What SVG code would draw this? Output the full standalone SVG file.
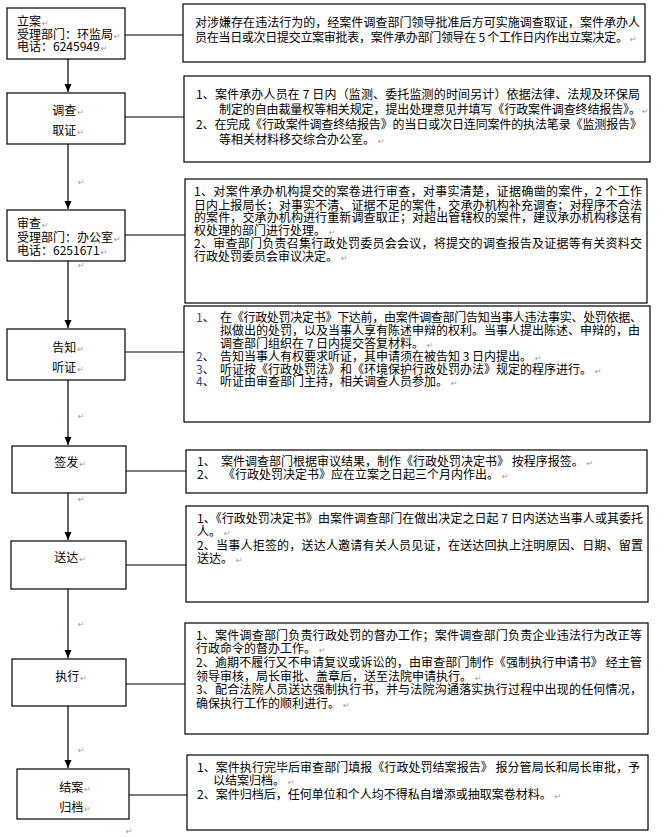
<svg xmlns="http://www.w3.org/2000/svg" width="664" height="837" viewBox="0 0 664 837">
<style>
.box{fill:#fff;stroke:#000;stroke-width:1.2}
.t{font-family:"Noto Sans CJK SC","Noto Sans",sans-serif;font-size:12px;fill:#000}
.m{text-anchor:middle}
.pm{font-family:"DejaVu Sans",sans-serif;font-size:8px;fill:#999}
.n{fill:#2b4a8b}
.c{stroke:#000;stroke-width:1.2;fill:none}
</style>
<defs>
<marker id="ah" markerUnits="userSpaceOnUse" markerWidth="8" markerHeight="8" viewBox="0 0 8 8" refX="8" refY="4" orient="auto">
<path d="M0,0.5 L8,4 L0,7.5 z" fill="#000"/>
</marker>
</defs>
<rect width="664" height="837" fill="#fff"/>

<g id="connectors">
<line class="c" x1="68" y1="59" x2="68" y2="92" marker-end="url(#ah)"/>
<line class="c" x1="68" y1="144" x2="68" y2="209" marker-end="url(#ah)"/>
<line class="c" x1="68" y1="261" x2="68" y2="328" marker-end="url(#ah)"/>
<line class="c" x1="68" y1="380" x2="68" y2="445" marker-end="url(#ah)"/>
<line class="c" x1="68" y1="493" x2="68" y2="540" marker-end="url(#ah)"/>
<line class="c" x1="68" y1="589" x2="68" y2="658" marker-end="url(#ah)"/>
<line class="c" x1="68" y1="706" x2="68" y2="768" marker-end="url(#ah)"/>
<line class="c" x1="125" y1="35" x2="183" y2="35"/>
<line class="c" x1="125" y1="117" x2="184" y2="117"/>
<line class="c" x1="125" y1="235" x2="185" y2="235"/>
<line class="c" x1="125" y1="352" x2="184" y2="352"/>
<line class="c" x1="126" y1="471" x2="186" y2="471"/>
<line class="c" x1="126" y1="565" x2="186" y2="565"/>
<line class="c" x1="126" y1="684" x2="185" y2="684"/>
<line class="c" x1="129" y1="795" x2="187" y2="795"/>
</g>

<g id="marks">
<text class="pm" x="78" y="185">↵</text>
<text class="pm" x="78" y="268">↵</text>
<text class="pm" x="78" y="419">↵</text>
<text class="pm" x="78" y="502">↵</text>
<text class="pm" x="78" y="627">↵</text>
<text class="pm" x="78" y="753">↵</text>
<text class="pm" x="126" y="834">↵</text>
</g>

<g id="n1">
<rect class="box" x="7" y="8" width="118" height="51"/>
<text class="t" x="17" y="26">立案<tspan class="pm" dx="1">↵</tspan></text>
<text class="t" x="17" y="38.5">受理部门：环监局<tspan class="pm" dx="1">↵</tspan></text>
<text class="t" x="17" y="51">电话：6245949<tspan class="pm" dx="1">↵</tspan></text>
</g>
<g id="n1d">
<rect class="box" x="183" y="4" width="462" height="58"/>
<text class="t" x="195" y="27" textLength="445" lengthAdjust="spacing">对涉嫌存在违法行为的，经案件调查部门领导批准后方可实施调查取证，案件承办人</text>
<text class="t" x="195" y="42" textLength="433" lengthAdjust="spacing">员在当日或次日提交立案审批表，案件承办部门领导在 5 个工作日内作出立案决定。</text>
<text class="pm" x="630" y="42">↵</text>
</g>

<g id="n2">
<rect class="box" x="7" y="93" width="118" height="51"/>
<text class="t m" x="68" y="115">调查<tspan class="pm" dx="1">↵</tspan></text>
<text class="t m" x="68" y="135">取证<tspan class="pm" dx="1">↵</tspan></text>
</g>
<g id="n2d">
<rect class="box" x="184" y="76" width="466" height="86"/>
<text class="t" x="196" y="99" textLength="444" lengthAdjust="spacing">1、案件承办人员在 7 日内（监测、委托监测的时间另计）依据法律、法规及环保局</text>
<text class="t" x="219" y="114" textLength="422" lengthAdjust="spacing">制定的自由裁量权等相关规定，提出处理意见并填写《行政案件调查终结报告》。</text>
<text class="pm" x="642" y="114">↵</text>
<text class="t" x="196" y="129" textLength="446" lengthAdjust="spacing">2、在完成《行政案件调查终结报告》的当日或次日连同案件的执法笔录《监测报告》</text>
<text class="t" x="219" y="144">等相关材料移交综合办公室。<tspan class="pm" dx="3">↵</tspan></text>
</g>

<g id="n3">
<rect class="box" x="7" y="210" width="118" height="51"/>
<text class="t" x="17" y="228">审查<tspan class="pm" dx="1">↵</tspan></text>
<text class="t" x="17" y="242">受理部门：办公室<tspan class="pm" dx="1">↵</tspan></text>
<text class="t" x="17" y="255">电话：6251671<tspan class="pm" dx="1">↵</tspan></text>
</g>
<g id="n3d">
<rect class="box" x="185" y="179" width="462" height="124"/>
<text class="t" x="194" y="196" textLength="448" lengthAdjust="spacing">1、对案件承办机构提交的案卷进行审查，对事实清楚，证据确凿的案件，2 个工作</text>
<text class="t" x="194" y="209.5" textLength="448" lengthAdjust="spacing">日内上报局长；对事实不清、证据不足的案件，交承办机构补充调查；对程序不合法</text>
<text class="t" x="194" y="222" textLength="448" lengthAdjust="spacing">的案件，交承办机构进行重新调查取正；对超出管辖权的案件，建议承办机构移送有</text>
<text class="t" x="194" y="234.5">权处理的部门进行处理。<tspan class="pm" dx="3">↵</tspan></text>
<text class="t" x="194" y="248" textLength="448" lengthAdjust="spacing">2、审查部门负责召集行政处罚委员会会议，将提交的调查报告及证据等有关资料交</text>
<text class="t" x="194" y="260.5">行政处罚委员会审议决定。<tspan class="pm" dx="3">↵</tspan></text>
</g>

<g id="n4">
<rect class="box" x="7" y="329" width="118" height="51"/>
<text class="t m" x="68" y="352">告知<tspan class="pm" dx="1">↵</tspan></text>
<text class="t m" x="68" y="372">听证<tspan class="pm" dx="1">↵</tspan></text>
</g>
<g id="n4d">
<rect class="box" x="184" y="306" width="466" height="116"/>
<text class="t" x="196" y="322"><tspan class="n">1</tspan>、</text>
<text class="t" x="220" y="322" textLength="422" lengthAdjust="spacing">在《行政处罚决定书》下达前，由案件调查部门告知当事人违法事实、处罚依据、</text>
<text class="t" x="220" y="335" textLength="420" lengthAdjust="spacing">拟做出的处罚，以及当事人享有陈述申辩的权利。当事人提出陈述、申辩的，由</text>
<text class="t" x="220" y="348">调查部门组织在 7 日内提交答复材料。<tspan class="pm" dx="3">↵</tspan></text>
<text class="t" x="196" y="361"><tspan class="n">2</tspan>、</text>
<text class="t" x="220" y="361">告知当事人有权要求听证，其申请须在被告知 3 日内提出。<tspan class="pm" dx="3">↵</tspan></text>
<text class="t" x="196" y="373.5"><tspan class="n">3</tspan>、</text>
<text class="t" x="220" y="373.5">听证按《行政处罚法》和《环境保护行政处罚办法》规定的程序进行。<tspan class="pm" dx="3">↵</tspan></text>
<text class="t" x="196" y="386"><tspan class="n">4</tspan>、</text>
<text class="t" x="220" y="386">听证由审查部门主持，相关调查人员参加。<tspan class="pm" dx="3">↵</tspan></text>
</g>

<g id="n5">
<rect class="box" x="12" y="446" width="114" height="47"/>
<text class="t m" x="70" y="467">签发<tspan class="pm" dx="1">↵</tspan></text>
</g>
<g id="n5d">
<rect class="box" x="186" y="450" width="461" height="43"/>
<text class="t" x="197" y="465.5">1、</text>
<text class="t" x="221" y="465.5">案件调查部门根据审议结果，制作《行政处罚决定书》 按程序报签。<tspan class="pm" dx="3">↵</tspan></text>
<text class="t" x="197" y="478.5">2、</text>
<text class="t" x="223" y="478.5">《行政处罚决定书》应在立案之日起三个月内作出。<tspan class="pm" dx="3">↵</tspan></text>
</g>

<g id="n6">
<rect class="box" x="11" y="541" width="115" height="48"/>
<text class="t m" x="70" y="562">送达<tspan class="pm" dx="1">↵</tspan></text>
</g>
<g id="n6d">
<rect class="box" x="186" y="506" width="462" height="96"/>
<text class="t" x="197" y="522.5" textLength="446" lengthAdjust="spacing">1、《行政处罚决定书》由案件调查部门在做出决定之日起 7 日内送达当事人或其委托</text>
<text class="t" x="197" y="536">人。<tspan class="pm" dx="3">↵</tspan></text>
<text class="t" x="197" y="549.5" textLength="446" lengthAdjust="spacing">2、当事人拒签的，送达人邀请有关人员见证，在送达回执上注明原因、日期、留置</text>
<text class="t" x="197" y="562.5">送达。<tspan class="pm" dx="3">↵</tspan></text>
</g>

<g id="n7">
<rect class="box" x="12" y="659" width="114" height="47"/>
<text class="t m" x="71" y="681">执行<tspan class="pm" dx="1">↵</tspan></text>
</g>
<g id="n7d">
<rect class="box" x="185" y="623" width="463" height="111"/>
<text class="t" x="196" y="639.5" textLength="446" lengthAdjust="spacing">1、案件调查部门负责行政处罚的督办工作；案件调查部门负责企业违法行为改正等</text>
<text class="t" x="196" y="652.5">行政命令的督办工作。<tspan class="pm" dx="3">↵</tspan></text>
<text class="t" x="196" y="666.5" textLength="446" lengthAdjust="spacing">2、逾期不履行又不申请复议或诉讼的，由审查部门制作《强制执行申请书》 经主管</text>
<text class="t" x="196" y="680.5">领导审核，局长审批、盖章后，送至法院申请执行。<tspan class="pm" dx="3">↵</tspan></text>
<text class="t" x="196" y="693.5" textLength="446" lengthAdjust="spacing">3、配合法院人员送达强制执行书，并与法院沟通落实执行过程中出现的任何情况，</text>
<text class="t" x="196" y="707.5">确保执行工作的顺利进行。<tspan class="pm" dx="3">↵</tspan></text>
</g>

<g id="n8">
<rect class="box" x="17" y="769" width="112" height="50"/>
<text class="t m" x="75" y="792">结案<tspan class="pm" dx="1">↵</tspan></text>
<text class="t m" x="75" y="812">归档<tspan class="pm" dx="1">↵</tspan></text>
</g>
<g id="n8d">
<rect class="box" x="187" y="755" width="461" height="75"/>
<text class="t" x="197" y="771.5" textLength="443" lengthAdjust="spacing">1、案件执行完毕后审查部门填报《行政处罚结案报告》 报分管局长和局长审批，予</text>
<text class="t" x="213" y="784.5">以结案归档。<tspan class="pm" dx="3">↵</tspan></text>
<text class="t" x="197" y="798.5">2、案件归档后，任何单位和个人均不得私自增添或抽取案卷材料。<tspan class="pm" dx="3">↵</tspan></text>
</g>
</svg>
